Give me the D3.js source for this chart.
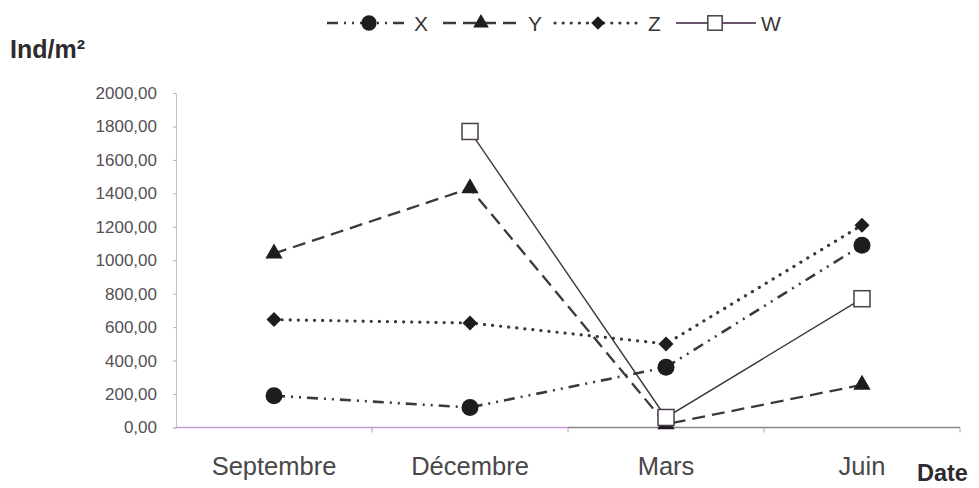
<!DOCTYPE html>
<html>
<head>
<meta charset="utf-8">
<script src="https://cdn.jsdelivr.net/npm/d3@7"></script>
<style>
  html, body { margin: 0; padding: 0; background: #fff; }
  svg { display: block; font-family: "Liberation Sans", Arial, sans-serif; }
</style>
</head>
<body>
<svg id="chart" width="979" height="488"></svg>
<script>
// Sampling months
const months = ["Septembre", "Décembre", "Mars", "Juin"];

// Densities (Ind/m²) per station
const seriesX = [190, 120, 360, 1090];
const seriesY = [1040, 1430, 20, 255];
const seriesZ = [645, 625, 500, 1210];
const seriesW = [null, 1770, 60, 770];

const seriesNames = ["X", "Y", "Z", "W"];
const yTicks = [0, 200, 400, 600, 800, 1000, 1200, 1400, 1600, 1800, 2000];

const svg = d3.select("#chart");

const x = d3.scaleBand().domain(months).range([176, 960]).padding(0);
const y = d3.scaleLinear().domain([0, 2000]).range([427.5, 93]);
const cx = m => x(m) + x.bandwidth() / 2;

const fr = d3.formatLocale({ decimal: ",", thousands: "", grouping: [3], currency: ["", ""] });
const fmt = fr.format(".2f");

// Y axis
const yAxis = svg.append("g").attr("transform", "translate(176,0)")
  .call(d3.axisLeft(y).tickValues(yTicks).tickFormat(fmt).tickSize(3).tickPadding(16));
yAxis.select(".domain").attr("stroke", "#c8c0c8").attr("stroke-width", 1);
yAxis.selectAll(".tick line").attr("stroke", "#b8b0b8");
yAxis.selectAll(".tick text")
  .attr("font-size", 17).attr("fill", "#555055")
  .attr("font-family", "Liberation Sans, Arial, sans-serif");

// X axis
const xAxis = svg.append("g").attr("transform", `translate(0,${y(0)})`)
  .call(d3.axisBottom(x).tickSize(0).tickPadding(29));
xAxis.select(".domain").remove();
xAxis.selectAll(".tick text")
  .attr("font-size", 25.5).attr("fill", "#4a464a")
  .attr("font-family", "Liberation Sans, Arial, sans-serif");
svg.append("line")
  .attr("x1", 176).attr("x2", 568).attr("y1", y(0)).attr("y2", y(0))
  .attr("stroke", "#c89ad0").attr("stroke-width", 1.3);
svg.append("line")
  .attr("x1", 568).attr("x2", 960).attr("y1", y(0)).attr("y2", y(0))
  .attr("stroke", "#8a868a").attr("stroke-width", 1.3);
// band boundary ticks
svg.append("g").selectAll("line")
  .data(months.slice(1).map(m => x(m)).concat([960]))
  .join("line")
  .attr("x1", d => d).attr("x2", d => d)
  .attr("y1", y(0)).attr("y2", y(0) + 5)
  .attr("stroke", "#aaa4aa").attr("stroke-width", 1);

// Axis titles
svg.append("text").attr("x", 10).attr("y", 58)
  .attr("font-size", 25).attr("font-weight", "bold").attr("fill", "#2e2a2e")
  .text("Ind/m²");
svg.append("text").attr("x", 917).attr("y", 481)
  .attr("font-size", 23.5).attr("font-weight", "bold").attr("fill", "#2e2a2e")
  .text("Date");

// Series styling
const lineColor = "#3c383c";
const styles = {
  X: { dash: "11,6,2,6,2,6", width: 2.6, marker: "circle" },
  Y: { dash: "13,7", width: 2.3, marker: "triangle" },
  Z: { dash: "0.1,8", width: 3.2, cap: "round", marker: "diamond" },
  W: { dash: null, width: 1.4, marker: "square" }
};

const data = { X: seriesX, Y: seriesY, Z: seriesZ, W: seriesW };

const line = d3.line()
  .defined(d => d.v !== null)
  .x(d => cx(d.m))
  .y(d => y(d.v));

function drawMarker(g, type, px, py, scale) {
  const s = scale || 1;
  if (type === "circle") {
    g.append("circle").attr("cx", px).attr("cy", py).attr("r", 8.5 * s).attr("fill", "#1e1c1e");
  } else if (type === "triangle") {
    g.append("path")
      .attr("d", d3.symbol().type(d3.symbolTriangle).size(130 * s * s)())
      .attr("transform", `translate(${px},${py})`).attr("fill", "#1e1c1e");
  } else if (type === "diamond") {
    const r = 7.5 * s;
    g.append("path")
      .attr("d", `M${px},${py - r}L${px + r},${py}L${px},${py + r}L${px - r},${py}Z`)
      .attr("fill", "#1e1c1e");
  } else if (type === "square") {
    const h = 8 * s;
    g.append("rect").attr("x", px - h).attr("y", py - h).attr("width", 2 * h).attr("height", 2 * h)
      .attr("fill", "#fff").attr("stroke", "#4a3e4c").attr("stroke-width", 1.5);
  }
}

const plot = svg.append("g");
seriesNames.forEach(name => {
  const st = styles[name];
  const pts = months.map((m, i) => ({ m, v: data[name][i] }));
  plot.append("path")
    .attr("d", line(pts))
    .attr("fill", "none")
    .attr("stroke", lineColor)
    .attr("stroke-width", st.width)
    .attr("stroke-linecap", st.cap || "butt")
    .attr("stroke-dasharray", st.dash);
});
seriesNames.forEach(name => {
  const st = styles[name];
  months.forEach((m, i) => {
    const v = data[name][i];
    if (v === null) return;
    drawMarker(plot, st.marker, cx(m), y(v), 1);
  });
});

// Legend
const legendItems = [
  { name: "X", x0: 327, x1: 408, mx: 369, tx: 414 },
  { name: "Y", x0: 443, x1: 523, mx: 481, tx: 528 },
  { name: "Z", x0: 555, x1: 642, mx: 598, tx: 648 },
  { name: "W", x0: 676, x1: 756, mx: 715, tx: 761 }
];
const legend = svg.append("g");
const ly = 23;
legendItems.forEach(it => {
  const st = styles[it.name];
  legend.append("line")
    .attr("x1", it.x0).attr("x2", it.x1).attr("y1", ly).attr("y2", ly)
    .attr("stroke", lineColor)
    .attr("stroke-width", st.width)
    .attr("stroke-linecap", st.cap || "butt")
    .attr("stroke-dasharray", st.dash);
  if (st.marker === "square") {
    legend.append("line").attr("x1", it.x0).attr("x2", it.x1).attr("y1", ly).attr("y2", ly)
      .attr("stroke", "#6a4e6c").attr("stroke-width", 1.4);
  }
  drawMarker(legend, st.marker, it.mx, ly, 0.9);
  legend.append("text").attr("x", it.tx).attr("y", ly + 7.5)
    .attr("font-size", 21).attr("fill", "#3a363a").text(it.name);
});
</script>
</body>
</html>
